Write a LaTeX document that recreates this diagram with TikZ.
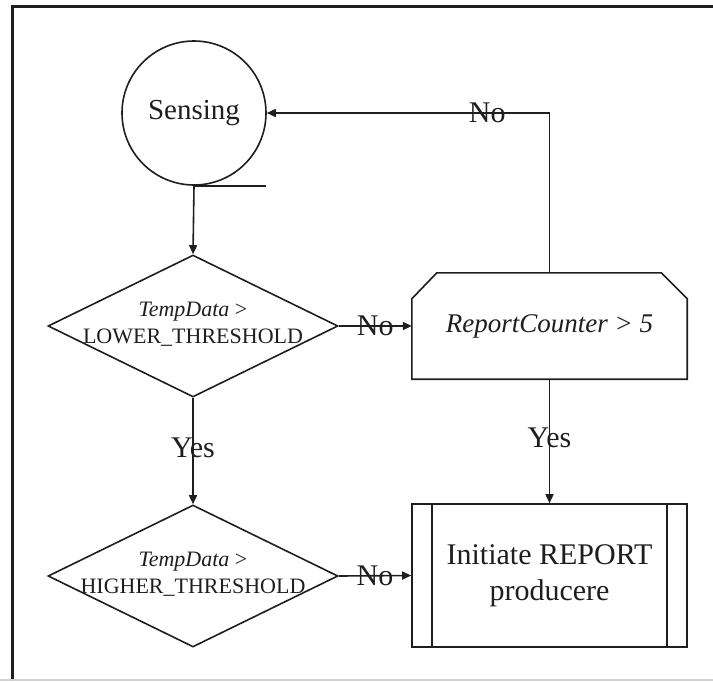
\documentclass[tikz,border=0pt]{standalone}
\usepackage{fontspec}
\setmainfont{Liberation Serif}
\usetikzlibrary{shapes.geometric,arrows.meta}
\definecolor{ink}{HTML}{1E1E1E}
\tikzset{
  every node/.style={text=ink},
  shapeline/.style={draw=ink, line width=1.6pt},
  conn/.style={draw=ink, line width=1.6pt},
  arr/.style={conn, -{Triangle[length=9pt,width=8pt]}},
  decision/.style={diamond, shapeline, inner sep=0pt, minimum width=290pt, minimum height=142pt},
  condtext/.style={align=center, font=\fontsize{22}{27}\selectfont, inner sep=0pt},
  edgelabel/.style={font=\fontsize{30}{32}\selectfont, inner sep=0pt},
}
\begin{document}
\begin{tikzpicture}[x=1pt,y=-1pt]
  \useasboundingbox (0,0) rectangle (713,681);
  % frame
  \draw[ink, line width=3pt] (12,681) -- (12,6) -- (713,6);
  \draw[gray!35, line width=1.2pt] (0,680) -- (713,680);

  % nodes
  \node[circle, shapeline, minimum size=144pt, inner sep=0pt,
        font=\fontsize{29}{32}\selectfont] (sense) at (194,113) {Sensing};

  \node[decision] (d1) at (193,326) {};
  \node[condtext] (d1t) at (193,324) {\textit{TempData} >\\LOWER\_THRESHOLD};

  \node[decision] (d2) at (193,576) {};
  \node[condtext] (d2t) at (193,574) {\textit{TempData} >\\HIGHER\_THRESHOLD};

  \node[minimum width=275pt, minimum height=106pt, inner sep=0pt,
        font=\fontsize{27}{30}\selectfont\itshape] (rc) at (549.5,326) {ReportCounter > 5};
  \draw[shapeline]
    (rc.south west) -- ([yshift=-26pt]rc.north west) -- ([xshift=25pt]rc.north west)
    -- ([xshift=-26pt]rc.north east) -- ([yshift=-26pt]rc.north east)
    -- (rc.south east) -- cycle;

  \node[shapeline, minimum width=275pt, minimum height=143pt, align=center,
        font=\fontsize{30}{36}\selectfont] (rep) at (549.5,575.5)
        {Initiate REPORT\\producere};
  \draw[shapeline] ([xshift=21pt]rep.north west) -- ([xshift=21pt]rep.south west);
  \draw[shapeline] ([xshift=-21pt]rep.north east) -- ([xshift=-21pt]rep.south east);

  % connectors
  \draw[conn] (sense.south) -- ++(72,0);
  \draw[arr] (sense.south) -- (d1.north);
  \draw[arr] (d1.east) -- node[edgelabel] {No} (rc.west);
  \draw[arr] (d1.south) -- node[edgelabel, pos=0.47] {Yes} (d2.north);
  \draw[arr] (d2.east) -- node[edgelabel] {No} (rep.west);
  \draw[arr] (rc.south) -- node[edgelabel, pos=0.47] {Yes} (rep.north);
  \draw[arr] (rc.north) |- node[edgelabel, pos=0.61] {No} (sense.east);
\end{tikzpicture}
\end{document}
